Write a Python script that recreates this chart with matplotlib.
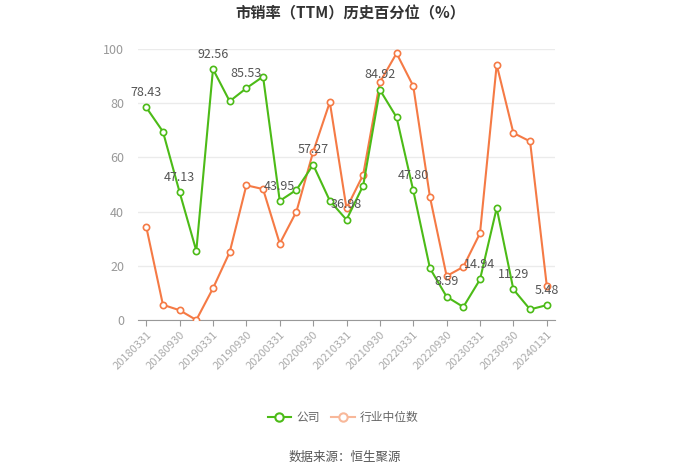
import matplotlib
matplotlib.use('Agg')
import matplotlib.pyplot as plt
from matplotlib.lines import Line2D

plt.rcParams['font.family'] = ['Noto Sans CJK SC', 'DejaVu Sans']

dates = ['20180331', '20180630', '20180930', '20181231', '20190331', '20190630',
         '20190930', '20191231', '20200331', '20200630', '20200930', '20201231',
         '20210331', '20210630', '20210930', '20211231', '20220331', '20220630',
         '20220930', '20221231', '20230331', '20230630', '20230930', '20231231',
         '20240131']
company = [78.43, 69.5, 47.13, 25.5, 92.56, 80.7, 85.53, 89.8, 43.95, 48.0,
           57.27, 44.0, 36.98, 49.6, 84.92, 74.8, 47.80, 19.1, 8.59, 4.8,
           14.94, 41.3, 11.29, 3.9, 5.48]
industry = [34.4, 5.6, 3.6, 0.0, 11.7, 25.0, 49.7, 48.3, 28.2, 40.0,
            62.0, 80.4, 41.2, 53.6, 87.7, 98.4, 86.3, 45.4, 16.2, 19.6,
            32.0, 94.2, 69.0, 65.9, 12.7]

green = '#4cbb17'
orange = '#f57a45'

fig = plt.figure(figsize=(7, 4.73), dpi=100)
ax = fig.add_axes([0.197, 0.3235, 0.596, 0.573])

x = list(range(len(dates)))
ax.plot(x, industry, color=orange, lw=1.5, marker='o', ms=4.5, mfc='white',
        mec=orange, mew=1.2, zorder=3)
ax.plot(x, company, color=green, lw=1.5, marker='o', ms=4.5, mfc='white',
        mec=green, mew=1.2, zorder=4)

# labels on every other company point
for i in range(0, len(company), 2):
    ax.annotate('%.2f' % company[i], (i, company[i]), xytext=(0, 6),
                textcoords='offset points', ha='center', va='bottom',
                fontsize=9, color='#555555', zorder=5)

ax.set_xlim(-0.5, len(dates) - 0.5)
ax.set_ylim(0, 100)
ax.set_yticks([0, 20, 40, 60, 80, 100])
ax.grid(axis='y', color='#ebebeb', lw=1)
ax.set_axisbelow(True)
for s in ['left', 'right', 'top']:
    ax.spines[s].set_visible(False)
ax.spines['bottom'].set_color('#999999')
ax.tick_params(axis='y', length=0, labelsize=9, labelcolor='#999999', pad=10)
ax.set_xticks(x[::2])
ax.set_xticklabels(dates[::2], rotation=45, ha='right', rotation_mode='anchor',
                   fontsize=8, color='#aaaaaa')
ax.tick_params(axis='x', color='#999999', length=4, pad=3)

fig.text(0.5, 0.972, '市销率（TTM）历史百分位（%）', ha='center', va='center',
         fontsize=11, fontweight='bold', color='#333333')

handles = [Line2D([], [], color=green, lw=1.5, marker='o', ms=6, mfc='white', mew=1.5),
           Line2D([], [], color='#f8b89a', lw=1.5, marker='o', ms=6, mfc='white', mew=1.5)]
fig.legend(handles, ['公司', '行业中位数'], loc='center', bbox_to_anchor=(0.49, 0.118),
           ncol=2, frameon=False, fontsize=8.5, labelcolor='#666666',
           handlelength=2.0, columnspacing=1.0, handletextpad=0.4)

fig.text(0.492, 0.033, '数据来源：恒生聚源', ha='center', va='center',
         fontsize=9, color='#555555')

fig.savefig('out.png', dpi=100)
